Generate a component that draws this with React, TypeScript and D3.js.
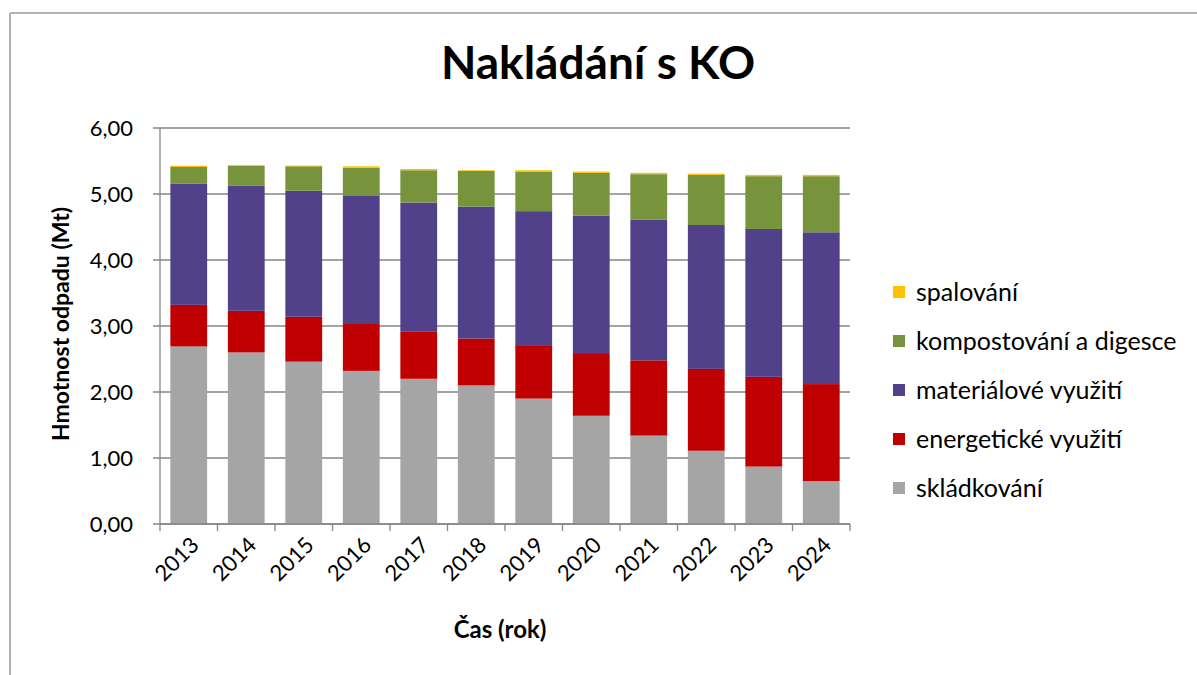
import React from "react"
import * as d3 from "d3"

const years = ["2013", "2014", "2015", "2016", "2017", "2018", "2019", "2020", "2021", "2022", "2023", "2024"]

// hodnoty v Mt
const skladovani = [2.69, 2.6, 2.46, 2.32, 2.2, 2.1, 1.9, 1.64, 1.34, 1.11, 0.87, 0.65]
const energeticke = [0.63, 0.63, 0.68, 0.71, 0.72, 0.71, 0.81, 0.95, 1.14, 1.24, 1.36, 1.47]
const materialove = [1.84, 1.9, 1.91, 1.94, 1.95, 2.0, 2.03, 2.08, 2.13, 2.18, 2.24, 2.3]
const kompostovani = [0.25, 0.3, 0.37, 0.43, 0.49, 0.54, 0.6, 0.65, 0.69, 0.76, 0.8, 0.85]
const spalovani = [0.02, 0.01, 0.01, 0.02, 0.02, 0.01, 0.02, 0.02, 0.02, 0.02, 0.02, 0.02]

const seriesNames = ["skládkování", "energetické využití", "materiálové využití", "kompostování a digesce", "spalování"]
const seriesColors = ["#A5A5A5", "#C00000", "#51418A", "#77933C", "#FFC000"]
const yTicks = [0, 1, 2, 3, 4, 5, 6]

const FONT = "Lato, 'Open Sans', sans-serif"

export default function App() {
  const rows = years.map((year, i) => ({
    year,
    s0: skladovani[i],
    s1: energeticke[i],
    s2: materialove[i],
    s3: kompostovani[i],
    s4: spalovani[i],
  }))
  const keys = ["s0", "s1", "s2", "s3", "s4"]
  const stacked = d3.stack<any>().keys(keys)(rows)

  const x = d3.scaleBand().domain(years).range([160, 850]).paddingInner(0.36).paddingOuter(0.18)
  const y = d3.scaleLinear().domain([0, 6]).range([524, 128])
  const step = x.step()
  const fmt = (v: number) => d3.format(".2f")(v).replace(".", ",")

  // legenda shora dolů: spalování ... skládkování
  const legendOrder = [4, 3, 2, 1, 0]

  return (
    <svg width={1197} height={675} style={{ position: "absolute", left: 0, top: 0, background: "#fff" }} fontFamily={FONT}>
      <rect x={0} y={0} width={1197} height={675} fill="#fff" />
      {/* rámeček */}
      <line x1={10} y1={13} x2={1197} y2={13} stroke="#B3B3B3" strokeWidth={2} />
      <line x1={10} y1={13} x2={10} y2={675} stroke="#B3B3B3" strokeWidth={2} />

      <text x={598} y={79} textAnchor="middle" fontSize={46} fontWeight="bold" fill="#000">
        Nakládání s KO
      </text>

      {/* mřížka */}
      {yTicks.map(t => (
        <g key={t}>
          <line x1={153} x2={850} y1={y(t)} y2={y(t)} stroke="#868686" strokeWidth={1.3} />
          <text x={133} y={y(t)} dy="0.35em" textAnchor="end" fontSize={22} fill="#000">
            {fmt(t)}
          </text>
        </g>
      ))}

      {/* sloupce */}
      {stacked.map((layer, li) => (
        <g key={li} fill={seriesColors[li]}>
          {layer.map((d, i) => (
            <rect key={i} x={x(years[i])} width={x.bandwidth()} y={y(d[1])} height={y(d[0]) - y(d[1])} />
          ))}
        </g>
      ))}

      {/* osy */}
      <line x1={160} x2={160} y1={128} y2={524} stroke="#868686" strokeWidth={1.3} />
      <line x1={160} x2={850} y1={524} y2={524} stroke="#868686" strokeWidth={1.3} />
      {d3.range(years.length + 1).map(i => (
        <line key={i} x1={160 + i * step} x2={160 + i * step} y1={524} y2={531} stroke="#868686" strokeWidth={1.3} />
      ))}

      {years.map(yr => {
        const cx = (x(yr) ?? 0) + x.bandwidth() / 2
        return (
          <text key={yr} transform={`translate(${cx + 6},${541}) rotate(-45)`} textAnchor="end" dy="0.35em" fontSize={22} fill="#000">
            {yr}
          </text>
        )
      })}

      <text x={500} y={638} textAnchor="middle" fontSize={24} fontWeight="bold" fill="#000">
        Čas (rok)
      </text>
      <text transform="translate(69,324) rotate(-90)" textAnchor="middle" fontSize={23} fontWeight="bold" fill="#000">
        Hmotnost odpadu (Mt)
      </text>

      {/* legenda */}
      {legendOrder.map((si, k) => {
        const cy = 292 + k * 49
        return (
          <g key={si}>
            <rect x={893} y={cy - 6} width={12} height={12} fill={seriesColors[si]} />
            <text x={916} y={cy} dy="0.35em" fontSize={25} fill="#000">
              {seriesNames[si]}
            </text>
          </g>
        )
      })}
    </svg>
  )
}
